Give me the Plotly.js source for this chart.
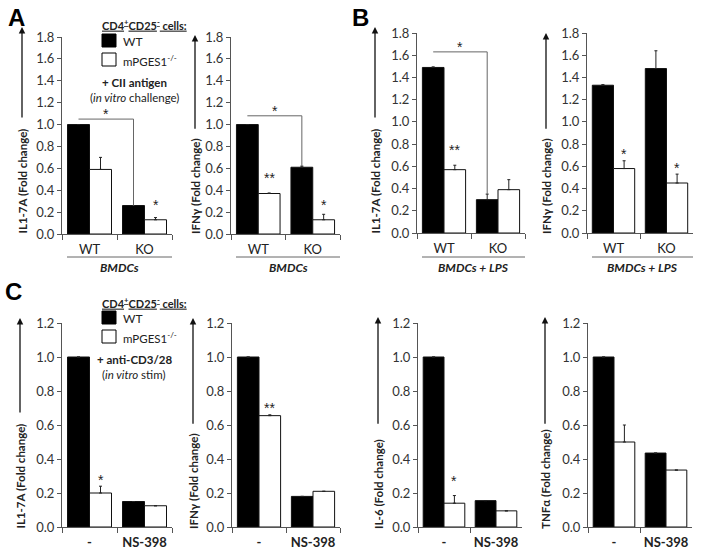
<!DOCTYPE html>
<html><head><meta charset="utf-8">
<script src="https://cdn.plot.ly/plotly-3.0.1.min.js"></script>
<style>html,body{margin:0;padding:0;background:#fff}#chart{width:704px;height:555px}</style>
</head><body><div id="chart"></div>
<script>
// ---------------- data ----------------
const catsTop = ['WT', 'KO'];
const catsBottom = ['-', 'NS-398'];

// Panel A (BMDCs, CII antigen)
const a1_wt = [1.00, 0.26];  const a1_wt_err = [0, 0];
const a1_ko = [0.59, 0.13];  const a1_ko_err = [0.11, 0.02];
const a2_wt = [1.00, 0.61];  const a2_wt_err = [0, 0.01];
const a2_ko = [0.37, 0.13];  const a2_ko_err = [0.005, 0.05];
// Panel B (BMDCs + LPS)
const b1_wt = [1.49, 0.30];  const b1_wt_err = [0.005, 0.05];
const b1_ko = [0.57, 0.39];  const b1_ko_err = [0.04, 0.09];
const b2_wt = [1.33, 1.48];  const b2_wt_err = [0.005, 0.16];
const b2_ko = [0.58, 0.45];  const b2_ko_err = [0.07, 0.08];
// Panel C (anti-CD3/28)
const c1_wt = [1.00, 0.15];  const c1_wt_err = [0, 0];
const c1_ko = [0.20, 0.125]; const c1_ko_err = [0.04, 0];
const c2_wt = [1.00, 0.18];  const c2_wt_err = [0, 0];
const c2_ko = [0.655, 0.21]; const c2_ko_err = [0.005, 0];
const c3_wt = [1.00, 0.155]; const c3_wt_err = [0, 0];
const c3_ko = [0.14, 0.095]; const c3_ko_err = [0.045, 0];
const c4_wt = [1.00, 0.435]; const c4_wt_err = [0, 0];
const c4_ko = [0.50, 0.335]; const c4_ko_err = [0.10, 0];

const yTitles = ['IL1-7A (Fold change)', 'IFNγ (Fold change)', 'IL1-7A (Fold change)', 'IFNγ (Fold change)',
                 'IL1-7A (Fold change)', 'IFNγ (Fold change)', 'IL-6 (Fold change)', 'TNFα (Fold change)'];
const groupLabels = ['BMDCs', 'BMDCs', 'BMDCs + LPS', 'BMDCs + LPS'];

// significance stars: [panel, x position (category index offset), y value, text]
const stars = [
  [0, 1.2, 0.22, '*'],
  [1, 0.2, 0.47, '**'], [1, 1.2, 0.22, '*'],
  [2, 0.2, 0.70, '**'],
  [3, 0.2, 0.67, '*'], [3, 1.2, 0.54, '*'],
  [4, 0.2, 0.25, '*'],
  [5, 0.2, 0.67, '**'],
  [6, 0.2, 0.24, '*']
];
// brackets: [panel, y level, end y]
const brackets = [
  [0, 1.05, 0.26],
  [1, 1.08, 0.62],
  [2, 1.63, 0.35]
];

// ---------------- layout geometry ----------------
const W = 704, H = 555;
const px = v => v / W;
const py = v => 1 - v / H;

const panels = [
  {wt: a1_wt, we: a1_wt_err, ko: a1_ko, ke: a1_ko_err, cats: catsTop, xd: [62, 172], yd: [234, 37], ymax: 1.8, tx: 22, tip: 27},
  {wt: a2_wt, we: a2_wt_err, ko: a2_ko, ke: a2_ko_err, cats: catsTop, xd: [231, 340], yd: [234, 37], ymax: 1.8, tx: 195, tip: 35},
  {wt: b1_wt, we: b1_wt_err, ko: b1_ko, ke: b1_ko_err, cats: catsTop, xd: [417, 525], yd: [233, 33], ymax: 1.8, tx: 375, tip: 27},
  {wt: b2_wt, we: b2_wt_err, ko: b2_ko, ke: b2_ko_err, cats: catsTop, xd: [587, 693], yd: [233, 33], ymax: 1.8, tx: 546, tip: 33},
  {wt: c1_wt, we: c1_wt_err, ko: c1_ko, ke: c1_ko_err, cats: catsBottom, xd: [62, 172], yd: [527, 323], ymax: 1.2, tx: 20, tip: 318},
  {wt: c2_wt, we: c2_wt_err, ko: c2_ko, ke: c2_ko_err, cats: catsBottom, xd: [232, 340], yd: [527, 323], ymax: 1.2, tx: 193, tip: 318},
  {wt: c3_wt, we: c3_wt_err, ko: c3_ko, ke: c3_ko_err, cats: catsBottom, xd: [418, 522], yd: [527, 323], ymax: 1.2, tx: 378, tip: 317},
  {wt: c4_wt, we: c4_wt_err, ko: c4_ko, ke: c4_ko_err, cats: catsBottom, xd: [588, 692], yd: [527, 323], ymax: 1.2, tx: 545, tip: 317}
];

const FONT = 'Lato, "Open Sans", sans-serif';
const STARFONT = '"Liberation Sans", Arial, sans-serif';
const AX = '#555';
const TXT = '#222';

const data = [];
const layout = {
  width: W, height: H,
  margin: {l: 0, r: 0, t: 0, b: 0},
  paper_bgcolor: '#fff', plot_bgcolor: 'rgba(0,0,0,0)',
  showlegend: false,
  barmode: 'group', bargap: 0.2, bargroupgap: 0,
  font: {family: FONT, size: 11, color: TXT},
  annotations: [], shapes: []
};

panels.forEach((p, i) => {
  const n = i === 0 ? '' : String(i + 1);
  const xa = 'x' + n, ya = 'y' + n;
  const mk = (vals, err, fill) => ({
    type: 'bar', x: p.cats, y: vals, xaxis: xa, yaxis: ya,
    marker: {color: fill, line: {color: '#111', width: 1}},
    error_y: {type: 'data', symmetric: false, array: err, arrayminus: err.map(() => 0),
              color: '#222', thickness: 1, width: 1.5, visible: true},
    hoverinfo: 'skip'
  });
  data.push(mk(p.wt, p.we, '#000'));
  data.push(mk(p.ko, p.ke, '#fff'));

  const bottomRow = i >= 4;
  layout['xaxis' + n] = {
    domain: [px(p.xd[0]), px(p.xd[1])], anchor: ya,
    type: 'category', range: [-0.5, 1.5],
    showline: true, linecolor: AX, linewidth: 1,
    ticks: 'outside', tickson: 'boundaries', ticklen: 5, tickcolor: AX,
    ticklabelstandoff: 3, tickangle: 0,
    tickfont: {family: FONT, size: 13, color: TXT, weight: bottomRow ? 'bold' : 'normal'},
    showgrid: false, zeroline: false, fixedrange: true
  };
  layout['yaxis' + n] = {
    domain: [py(p.yd[0]), py(p.yd[1])], anchor: xa,
    range: [0, p.ymax], dtick: 0.2, tickformat: '.1f',
    showline: true, linecolor: AX, linewidth: 1,
    ticks: 'outside', ticklen: 4, tickcolor: AX,
    tickfont: {family: FONT, size: 13, color: '#333'},
    showgrid: false, zeroline: false, fixedrange: true
  };

  // rotated y title with arrow
  const bottomY = bottomRow ? 531 : 236;
  layout.annotations.push({
    xref: 'paper', yref: 'paper', x: px(p.tx), y: py(bottomY),
    xanchor: 'center', yanchor: 'bottom', textangle: -90, showarrow: false,
    text: '<b>' + yTitles[i] + '</b>', font: {family: FONT, size: 11.5, color: TXT}
  });
  const tlen = yTitles[i].length * 5.6;
  layout.annotations.push({
    xref: 'paper', yref: 'paper', x: px(p.tx), y: py(p.tip),
    axref: 'pixel', ayref: 'pixel', ax: 0, ay: (bottomY - tlen - 5) - p.tip,
    text: '', showarrow: true, arrowhead: 2, arrowsize: 1, arrowwidth: 1.3, arrowcolor: '#111'
  });

  if (!bottomRow) {
    // group line + italic label
    layout.shapes.push({type: 'line', xref: 'paper', yref: 'paper',
      x0: px(p.xd[0] + 5), x1: px(p.xd[1]), y0: py(257), y1: py(257),
      line: {color: '#666', width: 1}});
    layout.annotations.push({xref: 'paper', yref: 'paper', x: px((p.xd[0] + 5 + p.xd[1]) / 2), y: py(267),
      xanchor: 'center', yanchor: 'middle', showarrow: false,
      text: '<b><i>' + groupLabels[i] + '</i></b>', font: {family: FONT, size: 12, color: TXT}});
  }
});

// stars
stars.forEach(s => {
  const n = s[0] === 0 ? '' : String(s[0] + 1);
  layout.annotations.push({xref: 'x' + n, yref: 'y' + n, x: s[1], y: s[2], text: s[3],
    showarrow: false, xanchor: 'center', yanchor: 'bottom', yshift: -5,
    font: {family: STARFONT, size: 14, color: TXT}});
});
// brackets
brackets.forEach(b => {
  const n = b[0] === 0 ? '' : String(b[0] + 1);
  layout.shapes.push({type: 'path', xref: 'x' + n, yref: 'y' + n,
    path: `M -0.2 ${b[1]} L 0.8 ${b[1]} L 0.8 ${b[2]}`,
    line: {color: '#666', width: 1}});
  layout.annotations.push({xref: 'x' + n, yref: 'y' + n, x: 0.3, y: b[1], text: '*',
    showarrow: false, xanchor: 'center', yanchor: 'bottom', yshift: -5,
    font: {family: STARFONT, size: 14, color: TXT}});
});

// panel letters
[['A', 16, 17], ['B', 360, 17], ['C', 13, 291]].forEach(l => {
  layout.annotations.push({xref: 'paper', yref: 'paper', x: px(l[1]), y: py(l[2]),
    xanchor: 'center', yanchor: 'middle', showarrow: false, text: '<b>' + l[0] + '</b>',
    font: {family: '"Liberation Sans", Arial, sans-serif', size: 24, color: '#000'}});
});

// legends (A and C)
function legend(top, line1, line2) {
  const L = layout.annotations, S = layout.shapes;
  L.push({xref: 'paper', yref: 'paper', x: px(100), y: py(top), xanchor: 'left', yanchor: 'middle', showarrow: false,
    text: '<b><u>CD4<sup>+</sup>CD25<sup>-</sup> cells:</u></b>', font: {family: FONT, size: 11, color: TXT}});
  S.push({type: 'rect', xref: 'paper', yref: 'paper', x0: px(102), x1: px(116), y0: py(top + 9), y1: py(top + 22),
    fillcolor: '#000', line: {color: '#000', width: 1}});
  L.push({xref: 'paper', yref: 'paper', x: px(121), y: py(top + 16), xanchor: 'left', yanchor: 'middle', showarrow: false,
    text: 'WT', font: {family: FONT, size: 12, color: TXT}});
  S.push({type: 'rect', xref: 'paper', yref: 'paper', x0: px(102), x1: px(116), y0: py(top + 28), y1: py(top + 41),
    fillcolor: '#fff', line: {color: '#000', width: 1}});
  L.push({xref: 'paper', yref: 'paper', x: px(121), y: py(top + 35), xanchor: 'left', yanchor: 'middle', showarrow: false,
    text: 'mPGES1<sup>-/-</sup>', font: {family: FONT, size: 11.5, color: TXT}});
  L.push({xref: 'paper', yref: 'paper', x: px(134), y: py(top + 57), xanchor: 'center', yanchor: 'middle', showarrow: false,
    text: '<b>' + line1 + '</b>', font: {family: FONT, size: 11.5, color: TXT}});
  L.push({xref: 'paper', yref: 'paper', x: px(134), y: py(top + 72), xanchor: 'center', yanchor: 'middle', showarrow: false,
    text: line2, font: {family: FONT, size: 11.5, color: TXT}});
}
legend(25, '+ CII antigen', '(<i>in vitro</i> challenge)');
legend(302, '+ anti-CD3/28', '(<i>in vitro</i> stim)');

Plotly.newPlot('chart', data, layout, {staticPlot: true, displayModeBar: false});
</script></body></html>
